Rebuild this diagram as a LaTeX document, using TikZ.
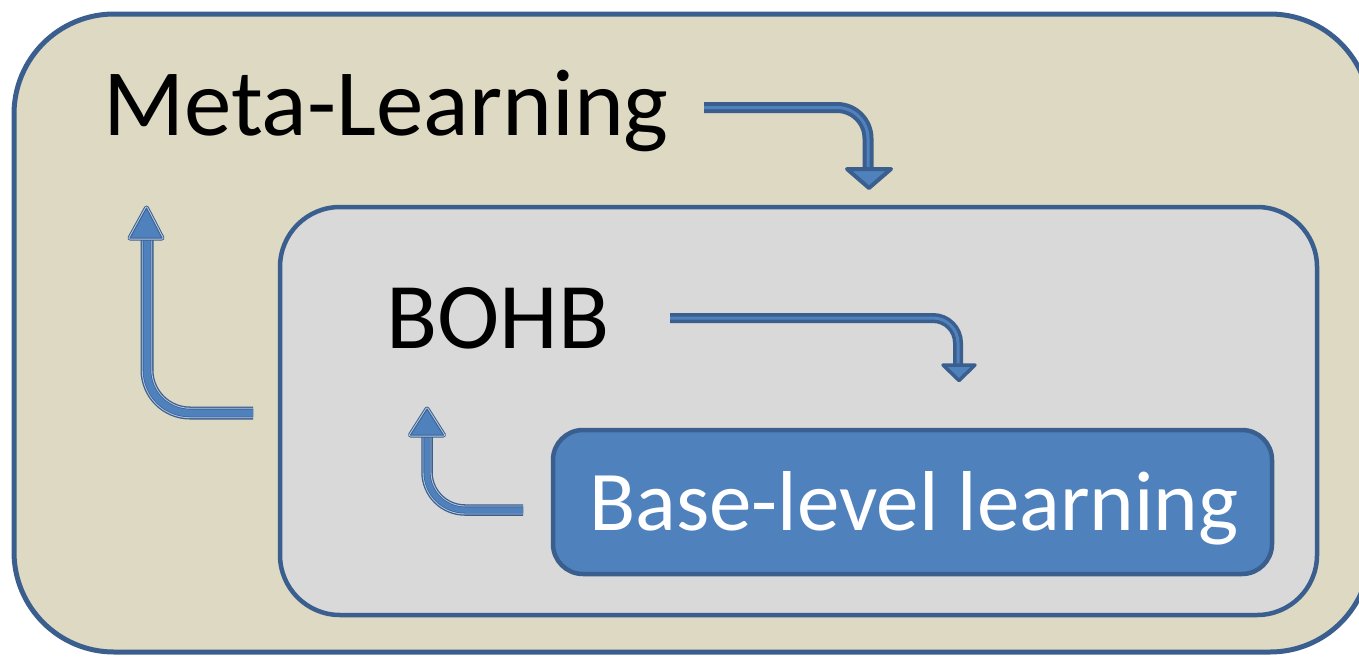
\documentclass[tikz,border=0pt]{standalone}
\usepackage{fontspec}
\setmainfont{Carlito}
\definecolor{edge}{HTML}{3A5F8E}
\definecolor{sand}{HTML}{DDD9C3}
\definecolor{stone}{HTML}{D9D9D9}
\definecolor{accent}{HTML}{4F81BD}
\definecolor{pale}{HTML}{B7CAE4}
\begin{document}
\begin{tikzpicture}[x=1pt,y=-1pt,
  panel/.style={draw=edge, line width=#1, inner sep=0pt, outer sep=0pt},
  label/.style={anchor=base west, inner sep=0pt, font=\fontsize{#1}{#1}\selectfont},
  % solid bent arrow: dark band with a lighter core
  bandarrow/.style={draw=edge, line width=#1, double=accent, double distance=3pt},
  bandhead/.style={fill=accent, draw=edge, line width=4pt, line join=round},
  % bent arrow with a pale double outline
  glowarrow/.style={preaction={draw=edge, line width=#1},
                    preaction={draw=pale, line width=#1-2.6},
                    preaction={draw=edge!85!accent, line width=#1-4.4},
                    draw=accent, line width=#1-6},
  glowhead/.style={preaction={draw=edge, line width=5pt, line join=round},
                   preaction={draw=pale, line width=3pt, line join=round},
                   fill=accent, draw=edge!85!accent, line width=1pt, line join=round}]
\useasboundingbox (0,0) rectangle (1359,656);
\clip (0,0) rectangle (1359,656);

% nested panels
\node[panel=5pt, fill=sand, rounded corners=100pt,
      minimum width=1356pt, minimum height=638pt] (meta) at (692,333) {};
\node[panel=4.5pt, fill=stone, rounded corners=60pt,
      minimum width=1037pt, minimum height=408pt] (bohb) at (798.5,411) {};
\node[panel=4.5pt, fill=accent, rounded corners=30pt,
      minimum width=719pt, minimum height=144pt] (base) at (912.5,502) {};

% labels
\node[label=95] (tmeta) at (103,135) {Meta-Learning};
\node[label=94] (tbohb) at (386,348) {BOHB};
\node[label=85, text=white] (tbase) at (589,530) {Base-level learning};

% arrow end points
\coordinate (a1s) at (704,107.5);
\coordinate (a1e) at (868,169);
\coordinate (a2s) at (670,318);
\coordinate (a2e) at (958,365);
\coordinate (a3s) at (253,413);
\coordinate (a3e) at (147,238);
\coordinate (a4s) at (523,510);
\coordinate (a4e) at (427,435);

% Meta-Learning -> BOHB
\draw[bandarrow=4pt, rounded corners=31pt] (a1s) -| (a1e);
\path[bandhead] (847,169) -- (891,169) -- (869,188) -- cycle;

% BOHB -> base-level learning
\draw[bandarrow=3.5pt, rounded corners=25pt] (a2s) -| (a2e);
\path[bandhead, line width=3.5pt] (943,365) -- (975,365) -- (959,380.5) -- cycle;

% BOHB -> Meta-Learning (feedback)
\path[glowarrow=13, rounded corners=43pt] (a3s) -| (a3e);
\path[glowhead] (130,238) -- (162,238) -- (146.5,208) -- cycle;

% base-level learning -> BOHB (feedback)
\path[glowarrow=11.5, rounded corners=38pt] (a4s) -| (a4e);
\path[glowhead] (410.5,435) -- (443.5,435) -- (427,409) -- cycle;
\end{tikzpicture}
\end{document}
